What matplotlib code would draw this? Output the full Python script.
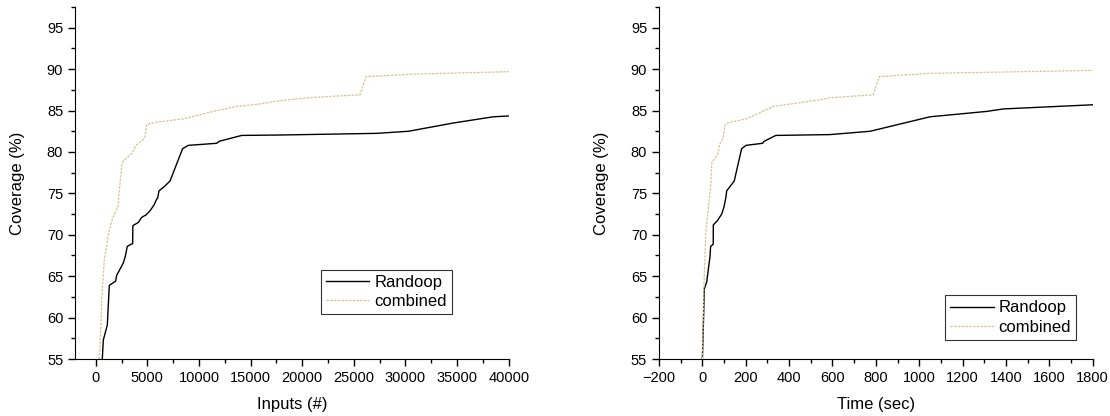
import matplotlib.pyplot as plt
from matplotlib.ticker import MultipleLocator

plt.rcParams['font.family'] = ['Liberation Sans', 'DejaVu Sans']

# Coverage vs number of inputs
inp_randoop_x = [640, 740, 1125, 1320, 1450, 1935, 2030, 2290, 2675, 2870, 3060, 3480, 3580, 3600,
                 4130, 4450, 4870, 5260, 5650, 5900, 6000, 6130, 6710, 7200, 8420, 8970, 11720,
                 11980, 14140, 17850, 27210, 30280, 34640, 38510, 40000]
inp_randoop_y = [55.0, 57.3, 59.1, 63.9, 64.0, 64.4, 65.1, 65.7, 66.6, 67.4, 68.6, 68.9, 68.9, 71.1,
                 71.5, 72.1, 72.4, 72.9, 73.6, 74.3, 74.4, 75.3, 75.9, 76.5, 80.4, 80.8, 81.05,
                 81.3, 82.0, 82.05, 82.25, 82.5, 83.5, 84.25, 84.35]
inp_comb_x = [320, 416, 580, 835, 1225, 1640, 2190, 2290, 2520, 2740, 3480, 3970, 4610, 4770, 4940,
              6230, 8490, 11390, 13650, 15910, 17850, 21080, 25600, 26180, 30760, 40000]
inp_comb_y = [55.0, 56.1, 62.1, 67.0, 70.0, 72.0, 73.5, 75.4, 78.4, 79.0, 79.8, 80.9, 81.5, 81.8, 83.35,
              83.65, 84.0, 84.9, 85.5, 85.8, 86.2, 86.6, 86.9, 89.1, 89.4, 89.7]

# Coverage vs time
time_randoop_x = [0, 1.4, 9, 20, 35, 38, 50, 50.5, 69, 89, 100, 109, 112, 147, 181, 201, 278, 285,
                  339, 588, 773, 1050, 1311, 1388, 1800]
time_randoop_y = [55.0, 56.1, 63.5, 64.3, 67.35, 68.6, 68.85, 71.2, 71.7, 72.5, 73.4, 74.6, 75.3, 76.5,
                  80.4, 80.8, 81.05, 81.3, 82.0, 82.1, 82.5, 84.25, 84.9, 85.2, 85.7]
time_comb_x = [0, 7, 15, 27, 38, 44, 69, 81, 96, 104, 120, 204, 327, 542, 588, 788, 816, 1050, 1800]
time_comb_y = [55.0, 63.7, 70.0, 73.0, 75.8, 78.8, 79.6, 81.0, 81.65, 83.25, 83.55, 84.0, 85.5, 86.3,
               86.55, 86.9, 89.1, 89.5, 89.85]

comb_color = '#cfc78f'

fig = plt.figure(figsize=(11.1, 4.16), dpi=100)
ax1 = fig.add_axes([0.0676, 0.137, 0.3907, 0.846])
ax2 = fig.add_axes([0.5937, 0.137, 0.3907, 0.846])


def style(ax, xlim, xmajor, xlabel, legend_pos):
    ax.set_xlim(*xlim)
    ax.set_ylim(55, 97.5)
    ax.xaxis.set_major_locator(MultipleLocator(xmajor))
    ax.xaxis.set_minor_locator(MultipleLocator(xmajor / 2))
    ax.yaxis.set_major_locator(MultipleLocator(5))
    ax.yaxis.set_minor_locator(MultipleLocator(2.5))
    ax.spines['top'].set_visible(False)
    ax.spines['right'].set_visible(False)
    ax.tick_params(which='major', direction='out', length=5, width=1, labelsize=10.5, colors='black')
    ax.tick_params(which='minor', direction='out', length=3, width=1)
    ax.set_xlabel(xlabel, fontsize=12, labelpad=9)
    ax.set_ylabel('Coverage (%)', fontsize=12, labelpad=16)
    leg = ax.legend(loc='lower left', bbox_to_anchor=legend_pos, fontsize=12, frameon=True,
                    fancybox=False, edgecolor='black', handlelength=2.6, borderpad=0.3,
                    labelspacing=0.25, handletextpad=0.3, borderaxespad=0)
    leg.get_frame().set_linewidth(0.8)


ax1.plot(inp_randoop_x, inp_randoop_y, color='black', lw=1.0, label='Randoop')
ax1.plot(inp_comb_x, inp_comb_y, color=comb_color, lw=0.9, ls=(0, (2, 1)), label='combined')
style(ax1, (-2000, 40000), 5000, 'Inputs (#)', (0.567, 0.128))

ax2.plot(time_randoop_x, time_randoop_y, color='black', lw=1.0, label='Randoop')
ax2.plot(time_comb_x, time_comb_y, color=comb_color, lw=0.9, ls=(0, (2, 1)), label='combined')
style(ax2, (-200, 1800), 200, 'Time (sec)', (0.66, 0.055))

plt.savefig('out.png', dpi=100)
